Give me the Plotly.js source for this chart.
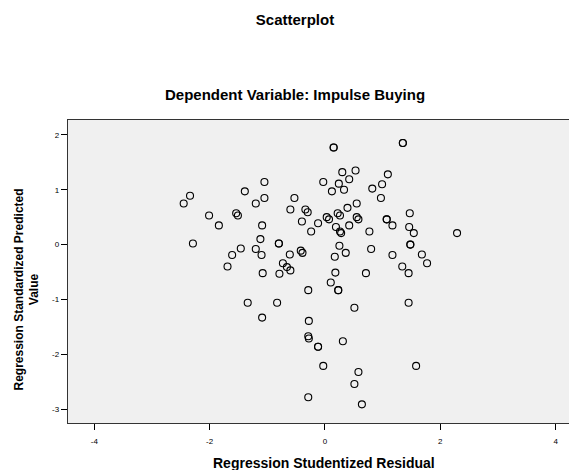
<!DOCTYPE html>
<html>
<head>
<meta charset="utf-8">
<script src="https://cdn.plot.ly/plotly-3.0.1.min.js"></script>
<style>html,body{margin:0;padding:0;background:#fff;}#chart{width:569px;height:470px;}</style>
</head>
<body>
<div id="chart"></div>
<script>
// Regression studentized residuals (x) and standardized predicted values (y)
const residual = [
  -2.45, -2.34, -2.29, -2.01, -1.84, -1.69, -1.61, -1.54, -1.51, -1.46,
  -1.39, -1.20, -1.20, -1.12, -1.10, -1.09, -1.08, -1.05, -1.05, -0.80,
  -0.80, -0.79, -0.73, -0.66, -0.61, -0.60, -0.60, -0.53, -0.42, -0.39,
  -0.40, -0.34, -0.30, -0.24, -0.12, -0.03, 0.03, 0.07, 0.12, 0.15,
  0.15, 1.35, 1.35, 0.30, 0.53, 0.42, 0.24, 0.33, 1.09, 0.99,
  0.82, 0.97, 0.22, 0.26, 0.39, 0.55, 0.55, 0.58, 0.19, 0.26,
  0.28, 0.42, 0.77, 1.07, 1.07, 1.17, 1.47, 1.46, 1.54, 2.29,
  1.48, 1.48, 0.25, 0.36, 0.17, 0.80, 1.17, 1.68, 1.77, 1.34,
  1.45, 0.18, 0.71, 0.10, -0.29, 0.23, 0.23, 0.51, 1.45, -1.34,
  -0.83, -1.09, -0.28, -0.29, -0.28, -0.12, -0.12, -0.03, -0.29, 0.31,
  0.58, 0.51, 1.58, 0.64
];
const predicted = [
  0.75, 0.89, 0.02, 0.53, 0.35, -0.40, -0.19, 0.57, 0.53, -0.07,
  0.97, 0.75, -0.08, 0.10, -0.19, 0.35, -0.52, 1.14, 0.85, 0.02,
  0.02, -0.53, -0.34, -0.41, -0.18, -0.47, 0.64, 0.85, -0.11, -0.15,
  0.42, 0.64, 0.59, 0.24, 0.39, 1.14, 0.50, 0.46, 0.97, 1.77,
  1.77, 1.85, 1.85, 1.32, 1.35, 1.19, 1.11, 1.00, 1.28, 1.10,
  1.02, 0.85, 0.57, 0.53, 0.67, 0.75, 0.50, 0.46, 0.32, 0.24,
  0.21, 0.35, 0.24, 0.46, 0.46, 0.35, 0.57, 0.32, 0.21, 0.21,
  0.00, 0.00, -0.02, -0.15, -0.22, -0.08, -0.19, -0.18, -0.34, -0.40,
  -0.52, -0.51, -0.52, -0.69, -0.83, -0.83, -0.83, -1.15, -1.06, -1.06,
  -1.06, -1.33, -1.39, -1.67, -1.71, -1.86, -1.86, -2.21, -2.78, -1.76,
  -2.32, -2.54, -2.21, -2.91
];
const xTicks = [-4, -2, 0, 2, 4];
const yTicks = [-3, -2, -1, 0, 1, 2];

const FONT = 'Liberation Sans, Arial, Helvetica, sans-serif';

const trace = {
  type: 'scatter',
  mode: 'markers',
  x: residual,
  y: predicted,
  marker: {symbol: 'circle-open', size: 7, color: '#000', line: {width: 1.1, color: '#000'}},
  hoverinfo: 'x+y',
  showlegend: false
};

const layout = {
  width: 569,
  height: 470,
  margin: {l: 68, r: 0, t: 120, b: 47, pad: 0},
  paper_bgcolor: '#ffffff',
  plot_bgcolor: '#f0f0f0',
  font: {family: FONT, color: '#000'},
  title: {
    text: '<b>Scatterplot</b>',
    font: {family: FONT, size: 15, color: '#000'},
    x: 295 / 569, xref: 'container', xanchor: 'center',
    y: 1 - 20 / 470, yref: 'container', yanchor: 'middle'
  },
  xaxis: {
    range: [-4.456, 4.231],
    tickvals: xTicks,
    ticktext: xTicks.map(String),
    ticks: 'outside', ticklen: 6, tickwidth: 1, tickcolor: '#000',
    tickfont: {family: FONT, size: 8, color: '#000'},
    ticklabelstandoff: 4,
    showgrid: false, zeroline: false,
    showline: true, linecolor: '#333', linewidth: 1.3, mirror: true,
    fixedrange: true
  },
  yaxis: {
    range: [-3.25, 2.27],
    tickvals: yTicks,
    ticktext: yTicks.map(String),
    ticks: 'outside', ticklen: 6, tickwidth: 1, tickcolor: '#000',
    tickfont: {family: FONT, size: 8, color: '#000'},
    showgrid: false, zeroline: false,
    showline: true, linecolor: '#333', linewidth: 1.3,
    fixedrange: true
  },
  annotations: [
    {
      text: '<b>Dependent Variable: Impulse Buying</b>',
      xref: 'paper', yref: 'paper',
      x: (295 - 68) / 501, y: (423 - 94) / 303,
      xanchor: 'center', yanchor: 'middle', showarrow: false,
      font: {family: FONT, size: 15, color: '#000'}
    },
    {
      text: '<b>Regression Studentized Residual</b>',
      xref: 'paper', yref: 'paper',
      x: (324 - 68) / 501, y: (423 - 463) / 303,
      xanchor: 'center', yanchor: 'middle', showarrow: false,
      font: {family: FONT, size: 14, color: '#000'}
    },
    {
      text: '<b>Regression Standardized Predicted<br>Value</b>',
      xref: 'paper', yref: 'paper',
      x: (26.5 - 68) / 501, y: (423 - 290) / 303,
      xanchor: 'center', yanchor: 'middle', showarrow: false,
      textangle: -90,
      font: {family: FONT, size: 12, color: '#000'}
    }
  ]
};

Plotly.newPlot('chart', [trace], layout, {displayModeBar: false, staticPlot: true});
</script>
</body>
</html>
